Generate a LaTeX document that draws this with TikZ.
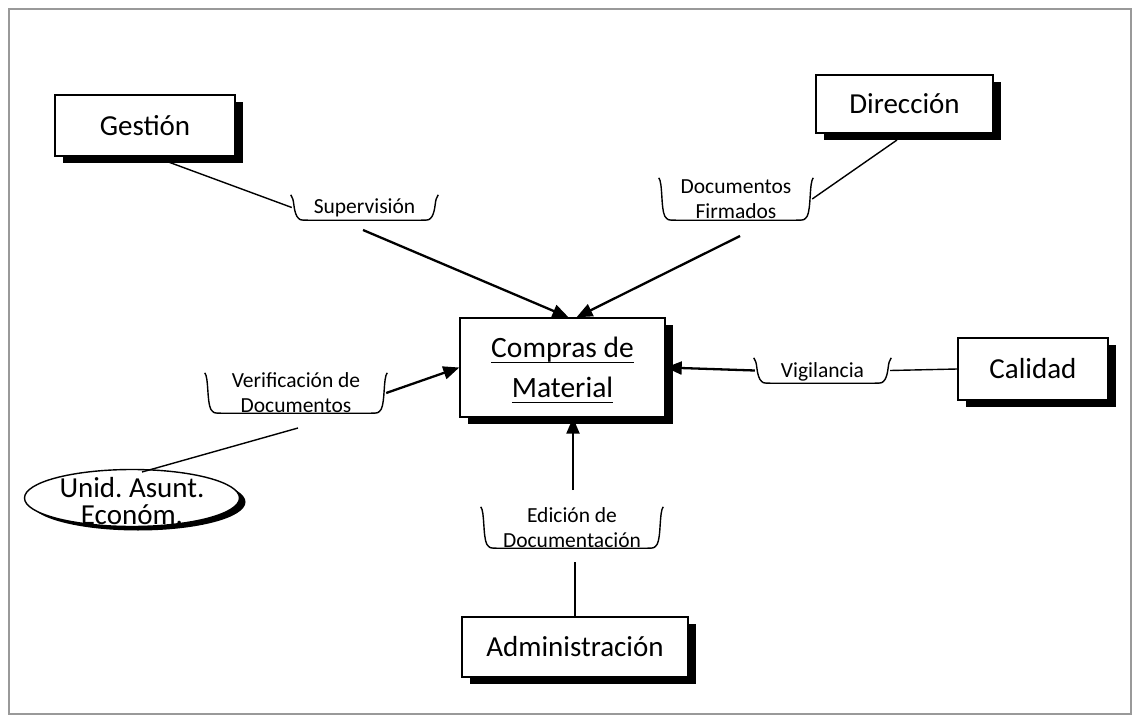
\documentclass[tikz,border=0pt]{standalone}
\usepackage{fontspec}
\setmainfont{Carlito}
\frenchspacing
\usetikzlibrary{arrows.meta,shadows,shapes.geometric}
\newcommand\uline[1]{\setbox0\hbox{#1}\rlap{\raisebox{-5.5pt}{\rule{\wd0}{1.7pt}}}\box0}
\newcommand\lblbrk[1]{\draw[thinline] ([xshift=-1pt]#1.north west) .. controls ([xshift=3pt,yshift=-5pt]#1.north west) and ([xshift=1pt,yshift=12pt]#1.south west) .. ([xshift=5pt,yshift=4pt]#1.south west) .. controls ([xshift=8pt]#1.south west) .. ([xshift=16pt]#1.south west) -- ([xshift=-16pt]#1.south east) .. controls ([xshift=-8pt]#1.south east) .. ([xshift=-5pt,yshift=4pt]#1.south east) .. controls ([xshift=-1pt,yshift=12pt]#1.south east) and ([xshift=-3pt,yshift=-5pt]#1.north east) .. ([xshift=1pt]#1.north east);}
\begin{document}
\begin{tikzpicture}[x=1pt,y=-1pt,
  box/.style={draw,line width=1.4pt,fill=white,inner sep=0pt,align=center,
    drop shadow={shadow xshift=8pt,shadow yshift=-7pt,fill=black,opacity=1},
    font=\fontsize{29}{34}\selectfont},
  brk/.style={inner sep=0pt},
  lbl/.style={font=\fontsize{21.5}{25}\selectfont,align=center,inner sep=0pt},
  thinline/.style={line width=1.4pt},
  flow/.style={line width=2.3pt,-{Triangle[length=16pt,width=13pt]}}]
\useasboundingbox (0,0) rectangle (1140,722);
\draw[line width=1.3pt,gray!80] (9,9) rectangle (1131,714);

% boxes
\node[box,minimum width=180pt,minimum height=61pt] (ges) at (145,125.5) {Gestión};
\node[box,minimum width=177pt,minimum height=58pt] (dir) at (904.5,104) {Dirección};
\node[box,minimum width=205pt,minimum height=99pt,font=\fontsize{29.5}{40}\selectfont] (cm) at (562.5,367.5) {};
\node[font=\fontsize{29.5}{40}\selectfont,align=center,inner sep=0pt] (cmt) at (562.5,370.5) {\uline{Compras de}\\\uline{Material}};
\node[box,minimum width=150pt,minimum height=62pt] (cal) at (1033,369) {Calidad};
\node[box,minimum width=226pt,minimum height=60pt] (adm) at (575,647) {Administración};
\node[ellipse,draw,line width=1.4pt,fill=white,inner sep=0pt,minimum width=215pt,minimum height=57pt,
  drop shadow={shadow xshift=6pt,shadow yshift=-4pt,fill=black,opacity=1}] (uae) at (132,498) {};
\node[font=\fontsize{29}{27}\selectfont,align=center,inner sep=0pt] (uaet) at (132,501) {Unid. Asunt.\\Económ.};

% label brackets
\node[brk,minimum width=145pt,minimum height=25pt] (sup) at (364.5,207.5) {};
\node[lbl] at (sup) {Supervisión};
\node[brk,minimum width=152pt,minimum height=42pt] (df) at (736,199) {};
\node[lbl] at (df) {Documentos\\Firmados};
\node[brk,minimum width=180pt,minimum height=40pt] (vd) at (296,393) {};
\node[lbl] at (vd) {Verificación de\\Documentos};
\node[brk,minimum width=135pt,minimum height=25pt] (vg) at (822.5,370.5) {};
\node[lbl] at ([yshift=-1pt]vg.center) {Vigilancia};
\node[brk,minimum width=180pt,minimum height=41pt] (ed) at (572,527.5) {};
\node[lbl] at (ed) {Edición de\\Documentación};
\lblbrk{sup}\lblbrk{df}\lblbrk{vd}\lblbrk{vg}\lblbrk{ed}

% connector ends
\coordinate (g1) at (163,160);
\coordinate (sa) at (363,230);
\coordinate (d1) at (897,140);
\coordinate (da) at (740,236);
\coordinate (u1) at (142,472);
\coordinate (u2) at (298,428);
\coordinate (e1) at (575,562);
\coordinate (ea) at (573,490);

\draw[thinline] (g1) -- (sup.west);
\draw[flow] (sa) -- ([xshift=6pt]cm.north);
\draw[thinline] (d1) -- (df.east);
\draw[flow] (da) -- ([xshift=14pt]cm.north);
\draw[thinline] (u1) -- (u2);
\draw[flow] (vd.east) -- (cm.west);
\draw[thinline] (cal.west) -- (vg.east);
\draw[flow] (vg.west) -- (cm.east);
\draw[thinline] (adm.north) -- (e1);
\draw[flow] (ea) -- ([xshift=10.5pt]cm.south);
\end{tikzpicture}
\end{document}
